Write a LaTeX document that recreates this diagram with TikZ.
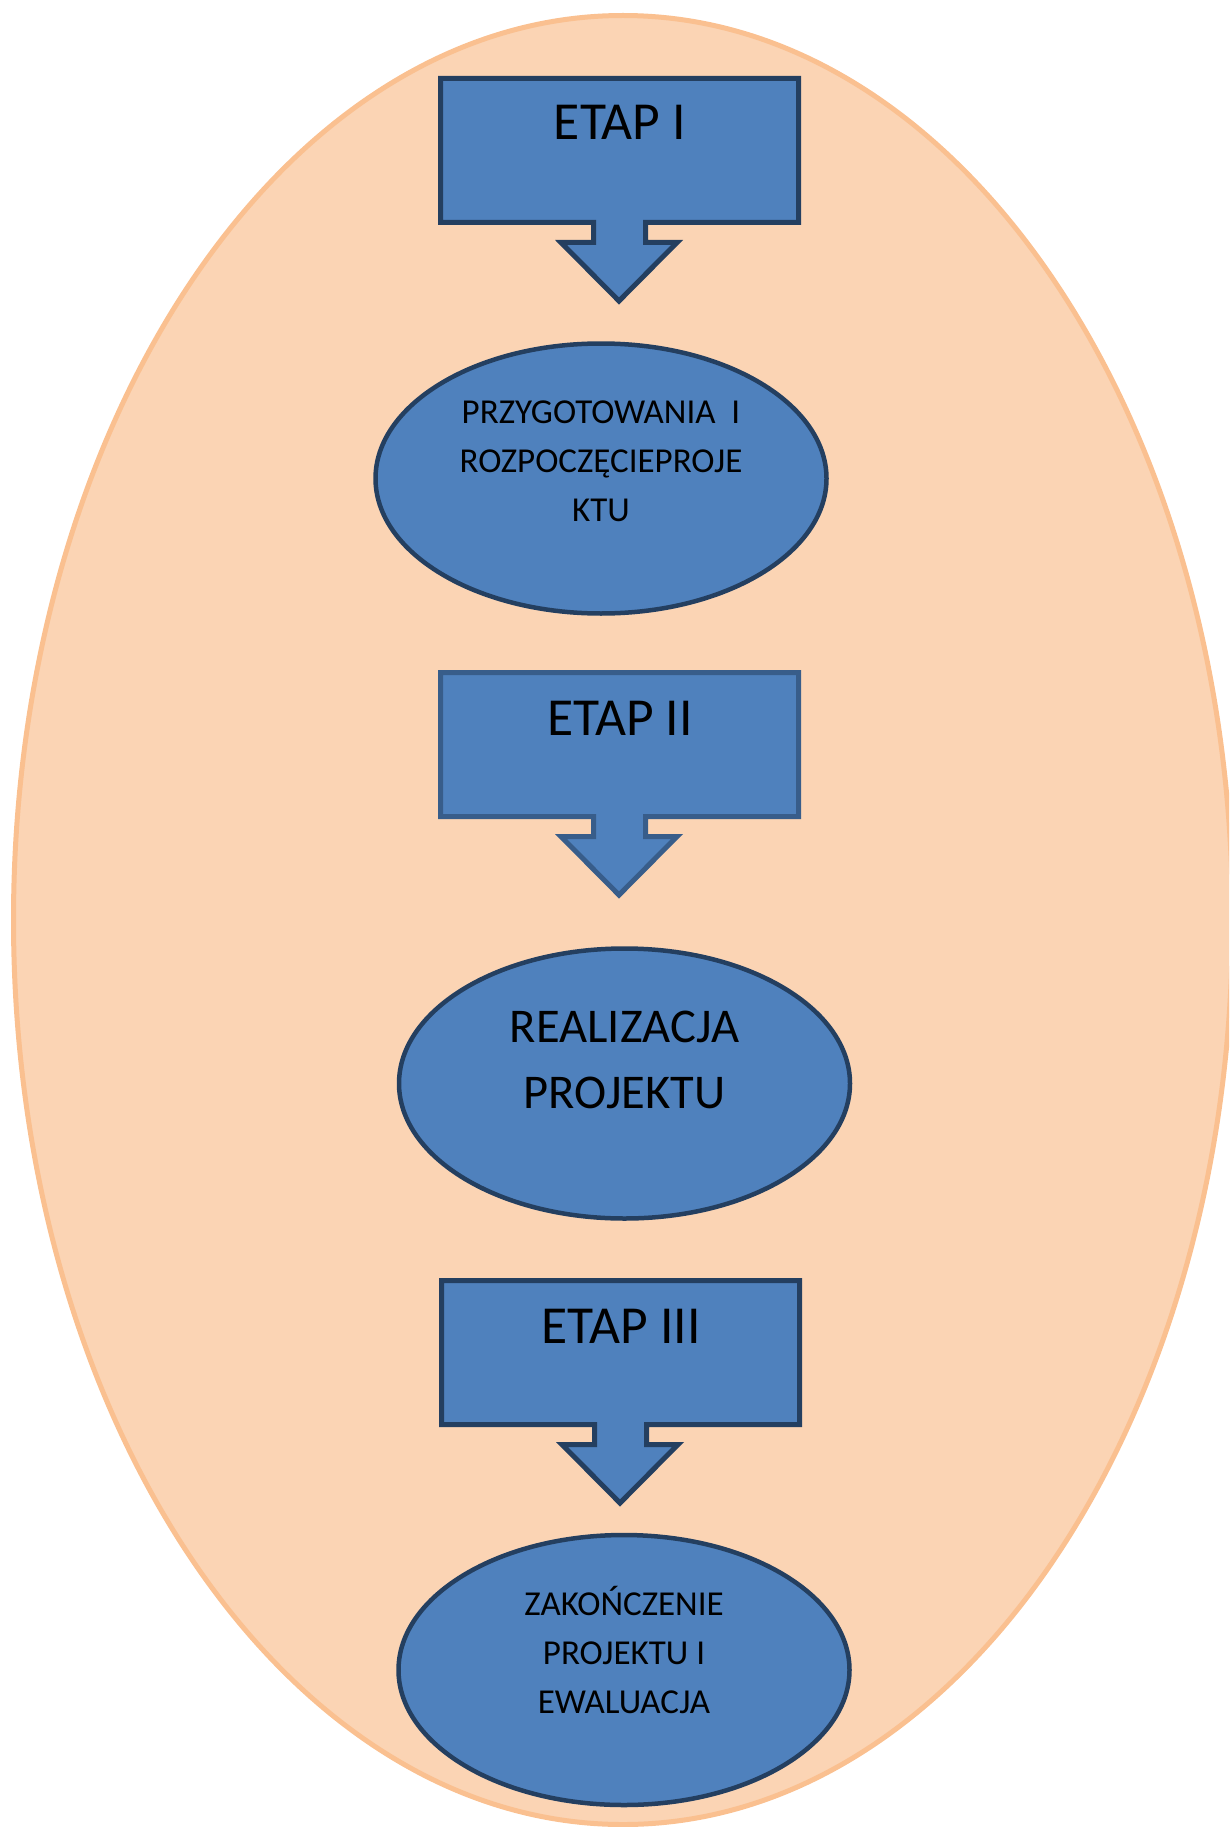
\documentclass[tikz,border=0pt]{standalone}
\usepackage{fontspec}
\setmainfont{Carlito}
\usetikzlibrary{shapes.geometric}
\definecolor{peachfill}{HTML}{FBD4B4}
\definecolor{peachline}{HTML}{FAC090}
\definecolor{bluefill}{HTML}{4F81BD}
\definecolor{blueline}{HTML}{243F60}
\definecolor{bluelinelight}{HTML}{385D8A}
\tikzset{
  arrowbox/.style={fill=bluefill, draw=blueline, line width=5pt, line join=miter},
  phase/.style={ellipse, fill=bluefill, draw=blueline, line width=4.5pt, inner sep=0pt,
                minimum width=451pt, minimum height=270pt},
  etaplabel/.style={anchor=base, inner sep=0pt, font=\fontsize{53.5}{62}\selectfont},
  smalllabel/.style={anchor=base, inner sep=0pt, font=\fontsize{35}{40}\selectfont},
  biglabel/.style={anchor=base, inner sep=0pt, font=\fontsize{48.5}{56}\selectfont},
}
\newcommand{\etapshape}[1]{%
  \draw[arrowbox,#1] (2.5,2.5) -- (360.5,2.5) -- (360.5,146.5) -- (207.5,146.5)
    -- (207.5,166.5) -- (239,166.5) -- (181,225) -- (123,166.5) -- (155.5,166.5)
    -- (155.5,146.5) -- (2.5,146.5) -- cycle;}
\begin{document}
\begin{tikzpicture}[x=1pt,y=-1pt]
\useasboundingbox (0,0) rectangle (1229,1827);
\clip (0,0) rectangle (1229,1827);
\node[ellipse, fill=peachfill, draw=peachline, line width=5pt, inner sep=0pt,
      minimum width=1219pt, minimum height=1809pt] (outer) at (623,920) {};

% ETAP I
\begin{scope}[shift={(438,76)}]
  \etapshape{}
  \node[etaplabel] (etap1) at (182,64) {ETAP I};
\end{scope}
% ETAP II
\begin{scope}[shift={(438,670)}]
  \etapshape{draw=bluelinelight}
  \node[etaplabel] (etap2) at (182,65) {ETAP II};
\end{scope}
% ETAP III
\begin{scope}[shift={(439,1278)}]
  \etapshape{}
  \node[etaplabel] (etap3) at (182,65) {ETAP III};
\end{scope}

% phase ellipses
\node[phase] (ph1) at (601,478.5) {};
\node[smalllabel] (ph1a) at (601,423) {PRZYGOTOWANIA~~I};
\node[smalllabel] (ph1b) at (601,472) {ROZPOCZĘCIEPROJE};
\node[smalllabel] (ph1c) at (601,521) {KTU};

\node[phase] (ph2) at (624.5,1083.5) {};
\node[biglabel] (ph2a) at (624.5,1042) {REALIZACJA};
\node[biglabel] (ph2b) at (624.5,1108) {PROJEKTU};

\node[phase] (ph3) at (624,1670) {};
\node[smalllabel] (ph3a) at (624,1615) {ZAKOŃCZENIE};
\node[smalllabel] (ph3b) at (624,1664) {PROJEKTU I};
\node[smalllabel] (ph3c) at (624,1713) {EWALUACJA};
\end{tikzpicture}
\end{document}
